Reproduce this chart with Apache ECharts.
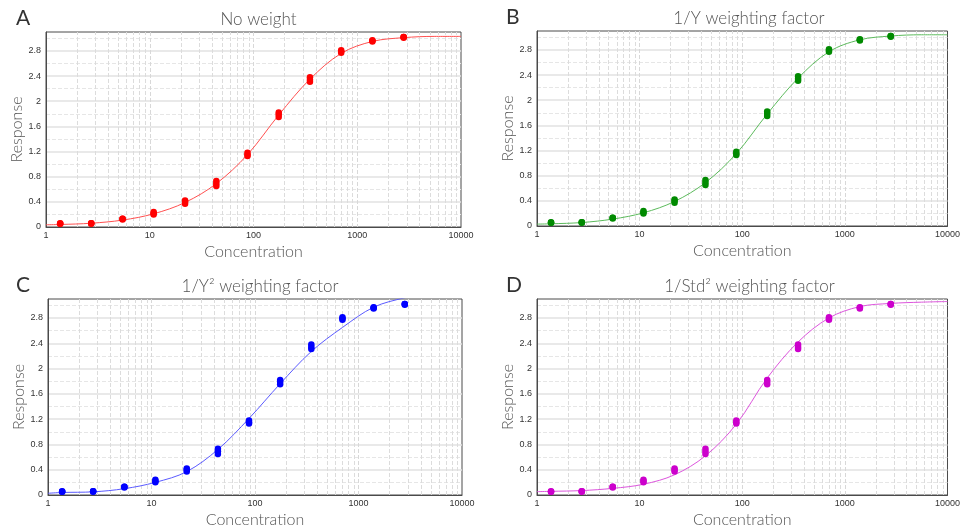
<!DOCTYPE html>
<html>
<head>
<meta charset="utf-8">
<script src="https://cdn.jsdelivr.net/npm/echarts@6/dist/echarts.min.js"></script>
<style>
  html, body { margin: 0; padding: 0; background: #fff; }
  #chart { width: 963px; height: 529px; }
</style>
</head>
<body>
<div id="chart"></div>
<script>
// standard concentrations and replicate responses (same standards in every panel)
var conc = [1.37, 2.73, 5.47, 10.9, 21.9, 43.8, 87.5, 175, 350, 700, 1400, 2800];
var rep1 = [0.05, 0.05, 0.12, 0.20, 0.37, 0.65, 1.13, 1.75, 2.31, 2.77, 2.95, 3.01];
var rep2 = [0.05, 0.06, 0.13, 0.22, 0.40, 0.69, 1.15, 1.79, 2.34, 2.79, 2.96, 3.02];
var rep3 = [0.06, 0.06, 0.13, 0.24, 0.42, 0.73, 1.18, 1.82, 2.38, 2.81, 2.97, 3.02];

// fitted curves
var curveX = [1, 1.37, 2.73, 5.47, 10.9, 21.9, 43.8, 87.5, 175, 350, 700, 1400, 2800, 5600, 10000];
var fitA = [0.035, 0.04, 0.06, 0.11, 0.21, 0.39, 0.69, 1.15, 1.78, 2.35, 2.76, 2.95, 3.01, 3.03, 3.03];
var fitB = [0.03, 0.035, 0.055, 0.11, 0.21, 0.39, 0.69, 1.15, 1.78, 2.35, 2.77, 2.96, 3.02, 3.04, 3.04];
var fitC = [0.027, 0.04, 0.05, 0.10, 0.20, 0.37, 0.72, 1.21, 1.76, 2.27, 2.65, 2.97, 3.12, 3.22, 3.28];
var fitD = [0.053, 0.058, 0.07, 0.105, 0.17, 0.32, 0.62, 1.12, 1.85, 2.42, 2.80, 2.98, 3.03, 3.05, 3.06];

var titles = ['No weight', '1/Y weighting factor', '1/Y\u00b2 weighting factor', '1/Std\u00b2 weighting factor'];
var letters = ['A', 'B', 'C', 'D'];
var fits = [fitA, fitB, fitC, fitD];
var pointColors = ['#ff0000', '#008a00', '#0000ff', '#cc00cc'];
var lineColors = ['#ff5050', '#5cba5c', '#5a5aff', '#dd55dd'];

var grids = [
    {left: 46, top: 32, width: 415, height: 195},
    {left: 537, top: 31, width: 414, height: 195},
    {left: 48, top: 299, width: 414, height: 196},
    {left: 537, top: 299, width: 415, height: 196}
];

// minor vertical grid at 2..9 of each decade
var minorX = [];
for (var d = 1; d < 10000; d *= 10) {
    for (var k = 2; k <= 9; k++) minorX.push({xAxis: k * d});
}

function pairs(xs, ys) {
    var out = [];
    for (var i = 0; i < xs.length; i++) out.push([xs[i], ys[i]]);
    return out;
}

var myChart = echarts.init(document.getElementById('chart'));
var option = {
    animation: false,
    backgroundColor: '#fff',
    title: [],
    grid: [],
    xAxis: [],
    yAxis: [],
    series: []
};

for (var p = 0; p < 4; p++) {
    var g = grids[p];
    option.grid.push({
        left: g.left, top: g.top, width: g.width, height: g.height,
        show: true, borderColor: '#4a4a4a', borderWidth: 1, backgroundColor: '#fff'
    });
    option.title.push({
        text: titles[p],
        left: g.left + g.width / 2, top: g.top - 26, textAlign: 'center',
        textStyle: {fontFamily: 'Lato', fontWeight: 300, fontSize: 17, color: '#555'}
    });
    option.title.push({
        text: letters[p],
        left: p % 2 == 0 ? 11 : 501, top: g.top - 29,
        textStyle: {fontFamily: 'Lato', fontWeight: 'normal', fontSize: 21, color: '#333'}
    });
    option.xAxis.push({
        type: 'log', logBase: 10, gridIndex: p, min: 1, max: 10000,
        name: 'Concentration', nameLocation: 'middle', nameGap: 17,
        nameTextStyle: {fontFamily: 'Lato', fontWeight: 300, fontSize: 16, color: '#555'},
        axisLine: {show: true, lineStyle: {color: '#4a4a4a', width: 1}},
        axisTick: {show: false},
        axisLabel: {fontFamily: 'Liberation Sans', fontSize: 9, color: '#333', margin: 4,
            formatter: function (v) { return String(Math.round(v)); }},
        splitLine: {show: true, showMinLine: false, showMaxLine: false,
            lineStyle: {color: '#d8d8d8', type: 'dashed', width: 1}}
    });
    option.yAxis.push({
        type: 'value', gridIndex: p, min: 0, max: 3.1, interval: 0.4,
        name: 'Response', nameLocation: 'middle', nameGap: 20,
        nameTextStyle: {fontFamily: 'Lato', fontWeight: 300, fontSize: 16, color: '#555'},
        axisLine: {show: true, lineStyle: {color: '#4a4a4a', width: 1}},
        axisTick: {show: false},
        axisLabel: {fontFamily: 'Liberation Sans', fontSize: 9, color: '#333', margin: 5, showMaxLabel: false},
        splitLine: {show: true, showMinLine: false, showMaxLine: false,
            lineStyle: {color: '#e2e2e2', width: 1.5}},
        minorTick: {show: false, splitNumber: 2},
        minorSplitLine: {show: true, lineStyle: {color: '#e6e6e6', type: 'dashed', width: 1}}
    });
    // helper series carrying the minor vertical grid lines
    option.series.push({
        type: 'line', xAxisIndex: p, yAxisIndex: p, data: [], z: 1, silent: true,
        markLine: {
            silent: true, z: 1, symbol: ['none', 'none'], label: {show: false},
            lineStyle: {color: '#dcdcdc', type: 'dashed', width: 1},
            emphasis: {disabled: true},
            data: minorX
        }
    });
    option.series.push({
        type: 'line', xAxisIndex: p, yAxisIndex: p, z: 2,
        data: pairs(curveX, fits[p]),
        smooth: 0.35, showSymbol: false, clip: true,
        lineStyle: {color: lineColors[p], width: 1}
    });
    var reps = [rep1, rep2, rep3];
    for (var r = 0; r < reps.length; r++) {
        option.series.push({
            type: 'scatter', xAxisIndex: p, yAxisIndex: p, z: 3,
            data: pairs(conc, reps[r]),
            symbol: 'circle', symbolSize: 6.5,
            itemStyle: {color: pointColors[p], opacity: 1}
        });
    }
}

myChart.setOption(option);
</script>
</body>
</html>
